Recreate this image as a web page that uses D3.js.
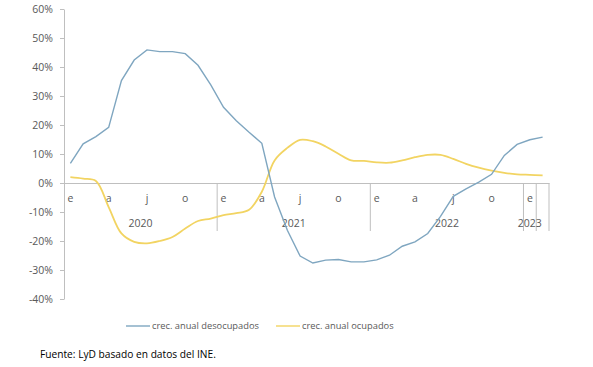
<!DOCTYPE html>
<html>
<head>
<meta charset="utf-8">
<script src="https://cdn.jsdelivr.net/npm/d3@7"></script>
<style>
  body { margin: 0; background: #fff; }
  text { font-family: "Open Sans", sans-serif; fill: #595959; }
</style>
</head>
<body>
<svg id="chart"></svg>
<script>
const width = 593;
const height = 367;

// data, monthly Jan 2020 - Feb 2023
const months = ["e","f","m","a","m","j","j","a","s","o","n","d",
                "e","f","m","a","m","j","j","a","s","o","n","d",
                "e","f","m","a","m","j","j","a","s","o","n","d",
                "e","f"];
const monthLabels = ["e","","","a","","","j","","","o","","",
                     "e","","","a","","","j","","","o","","",
                     "e","","","a","","","j","","","o","","",
                     "e",""];
const years = ["2020","2021","2022","2023",""];
const yearStart = [0, 12, 24, 36, 37];
const yearEnd = [11, 23, 35, 36, 37];

const desocupados = [6.8, 13.5, 16.0, 19.2, 35.3, 42.4, 45.9, 45.3, 45.3, 44.6, 40.6, 33.8,
                     26.1, 21.5, 17.5, 13.7, -4.8, -16.3, -25.2, -27.6, -26.6, -26.4, -27.2, -27.2,
                     -26.5, -24.9, -21.8, -20.3, -17.4, -11.5, -4.6, -2.0, 0.3, 3.0, 9.5, 13.3,
                     14.9, 15.8];
const ocupados = [2.0, 1.5, 0.7, -8.3, -17.4, -20.3, -20.8, -20.0, -18.6, -15.7, -13.1, -12.3,
                  -11.1, -10.4, -9.2, -3.0, 7.8, 12.1, 14.9, 14.4, 12.6, 10.1, 7.8, 7.6,
                  7.1, 7.0, 7.8, 8.9, 9.7, 9.7, 8.3, 6.6, 5.3, 4.3, 3.5, 3.0,
                  2.8, 2.6];
const yTicks = [-40, -30, -20, -10, 0, 10, 20, 30, 40, 50, 60];

const seriesNames = ["crec. anual desocupados", "crec. anual ocupados"];
const colors = ["#7fa6c0", "#f2d462"];

const axisColor = "#bfbfbf";

const svg = d3.select("#chart")
  .attr("width", width)
  .attr("height", height);

const xScale = d3.scaleBand()
  .domain(d3.range(months.length))
  .range([64, 549])
  .padding(0);

const yScale = d3.scaleLinear()
  .domain([-40, 60])
  .range([299, 9]);

const xc = i => xScale(i) + xScale.bandwidth() / 2;

// y axis
const yAxis = d3.axisLeft(yScale)
  .tickValues(yTicks)
  .tickSize(4)
  .tickSizeOuter(0)
  .tickPadding(7)
  .tickFormat(d => d + "%");

const yG = svg.append("g")
  .attr("transform", "translate(64,0)")
  .call(yAxis);
yG.selectAll("path, line").attr("stroke", axisColor);
yG.selectAll("text").style("font-size", "10.5px").attr("fill", "#595959");

// x axis (on the zero line)
const xAxis = d3.axisBottom(xScale)
  .tickSize(0)
  .tickSizeOuter(0)
  .tickPadding(12)
  .tickFormat(i => monthLabels[i]);

const xG = svg.append("g")
  .attr("transform", `translate(0,${yScale(0)})`)
  .call(xAxis);
xG.select(".domain").attr("stroke", axisColor);
xG.selectAll("text").style("font-size", "10.5px").attr("fill", "#595959");

// year separators
const sepX = yearStart.slice(1).map(i => xScale(i)).concat([xScale.range()[1]]);
svg.append("g")
  .selectAll("line")
  .data(sepX)
  .enter()
  .append("line")
    .attr("x1", d => d)
    .attr("x2", d => d)
    .attr("y1", yScale(0))
    .attr("y2", 231)
    .attr("stroke", axisColor)
    .attr("stroke-width", 1);

// year labels
svg.append("g")
  .selectAll("text")
  .data(years.filter(y => y !== ""))
  .enter()
  .append("text")
    .attr("x", (d, i) => (xScale(yearStart[i]) + xScale(yearEnd[i]) + xScale.bandwidth()) / 2)
    .attr("y", 227)
    .style("text-anchor", "middle")
    .style("font-size", "10.5px")
    .text(d => d);

// lines
const lineDes = d3.line()
  .x((d, i) => xc(i))
  .y(d => yScale(d));

const lineOcu = d3.line()
  .x((d, i) => xc(i))
  .y(d => yScale(d))
  .curve(d3.curveCatmullRom.alpha(0.5));

svg.append("path")
  .datum(ocupados)
  .attr("d", lineOcu)
  .attr("fill", "none")
  .attr("stroke", colors[1])
  .attr("stroke-width", 1.8);

svg.append("path")
  .datum(desocupados)
  .attr("d", lineDes)
  .attr("fill", "none")
  .attr("stroke", colors[0])
  .attr("stroke-width", 1.4);

// legend
const legendX = [126, 276];
const legend = svg.append("g")
  .selectAll("g")
  .data(seriesNames)
  .enter()
  .append("g")
    .attr("transform", (d, i) => `translate(${legendX[i]},326)`);

legend.append("line")
  .attr("x1", 0)
  .attr("x2", 24)
  .attr("stroke", (d, i) => colors[i])
  .attr("stroke-width", 1.4);

legend.append("text")
  .attr("x", 26)
  .attr("dy", "0.35em")
  .style("font-size", "9.3px")
  .text(d => d);

// source
svg.append("text")
  .attr("x", 40)
  .attr("y", 358)
  .style("font-size", "10.2px")
  .style("fill", "#000")
  .text("Fuente: LyD basado en datos del INE.");
</script>
</body>
</html>
